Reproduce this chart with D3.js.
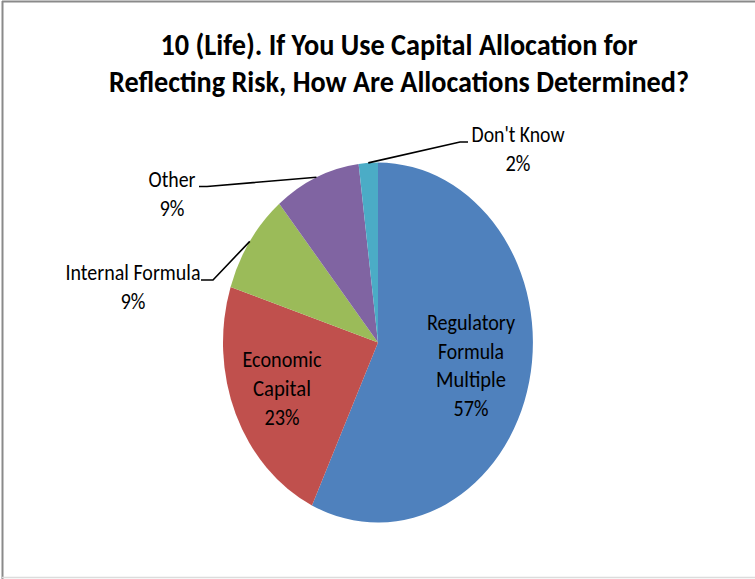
<!DOCTYPE html>
<html>
<head>
<meta charset="utf-8">
<script src="https://cdn.jsdelivr.net/npm/d3@7"></script>
<style>
  html, body { margin: 0; padding: 0; background: #fff; }
  svg { display: block; }
  text { font-family: Carlito, Calibri, Lato, "Open Sans", sans-serif; fill: #000; }
</style>
</head>
<body>
<svg id="chart" width="755" height="579"></svg>
<script>
// Survey answers and their shares (percent)
const categories = ["Regulatory Formula Multiple", "Economic Capital", "Internal Formula", "Other", "Don't Know"];
const shares = [57, 23, 9, 9, 2];
const colors = ["#4F81BD", "#C0504D", "#9BBB59", "#8064A2", "#4BACC6"];
const titleLines = ["10 (Life). If You Use Capital Allocation for", "Reflecting Risk, How Are Allocations Determined?"];

const W = 755, H = 579;
const cx = 378, cy = 342.5, rx = 155, ry = 180;

const svg = d3.select("#chart");

// Frame
svg.append("rect").attr("x", 0).attr("y", 0).attr("width", W).attr("height", H).attr("fill", "#fff");
svg.append("line").attr("x1", 2).attr("x2", W).attr("y1", 1.5).attr("y2", 1.5).attr("stroke", "#8a8a8a").attr("stroke-width", 2);
svg.append("line").attr("x1", 2.5).attr("x2", 2.5).attr("y1", 1).attr("y2", H).attr("stroke", "#8a8a8a").attr("stroke-width", 2);
svg.append("line").attr("x1", 2).attr("x2", W).attr("y1", 577.5).attr("y2", 577.5).attr("stroke", "#dcdcdc").attr("stroke-width", 1.5);

// Title
const title = svg.append("g");
const titleBase = [55, 92];
const titleWidth = [477, 580];
titleLines.forEach((t, i) => {
  title.append("text")
    .attr("x", 399).attr("y", titleBase[i])
    .attr("text-anchor", "middle")
    .attr("font-size", 31).attr("font-weight", "bold")
    .attr("textLength", titleWidth[i]).attr("lengthAdjust", "spacingAndGlyphs")
    .text(t);
});

// Pie (drawn on a unit circle, then stretched to the ellipse)
const data = categories.map((c, i) => ({ name: c, value: shares[i], color: colors[i] }));
const pie = d3.pie().value(d => d.value).sort(null);
const arcs = pie(data);
const arc = d3.arc().innerRadius(0).outerRadius(1);

const pieG = svg.append("g").attr("transform", `translate(${cx},${cy}) scale(${rx},${ry})`);
pieG.selectAll("path").data(arcs).join("path")
  .attr("d", arc)
  .attr("fill", d => d.data.color);

// Point on the ellipse edge at the middle of a slice
function edgePoint(d, k = 1) {
  const a = (d.startAngle + d.endAngle) / 2;
  return [cx + rx * k * Math.sin(a), cy - ry * k * Math.cos(a)];
}

const fs = 22;
const lab = svg.append("g").attr("font-size", fs);

function label(lines, x, y0, step, widths) {
  lines.forEach((t, i) => {
    const el = lab.append("text")
      .attr("x", x).attr("y", y0 + i * step)
      .attr("text-anchor", "middle")
      .text(t);
    if (widths && widths[i]) el.attr("textLength", widths[i]).attr("lengthAdjust", "spacingAndGlyphs");
  });
}

// Inside labels
label(["Regulatory", "Formula", "Multiple", shares[0] + "%"], 471, 330, 28.5, [88, 66, 70, 35]);
label(["Economic", "Capital", shares[1] + "%"], 282, 367, 29, [79, 58, 35]);

// Outside labels with leader lines
const leader = d3.line();
const lines = svg.append("g").attr("fill", "none").attr("stroke", "#000").attr("stroke-width", 1.6);

// Internal Formula
lines.append("path").attr("d", leader([[201, 280], [213, 280], edgePoint(arcs[2])]));
label(["Internal Formula", shares[2] + "%"], 133, 280, 28.5, [135, 25]);

// Other
lines.append("path").attr("d", leader([[199, 186.5], [207, 186.5], edgePoint(arcs[3])]));
label(["Other", shares[3] + "%"], 172, 187, 29, [47, 25]);

// Don't Know
lines.append("path").attr("d", leader([edgePoint(arcs[4]), [460, 142], [468, 142]]));
label(["Don't Know", shares[4] + "%"], 518, 142, 29, [93, 25]);
</script>
</body>
</html>
